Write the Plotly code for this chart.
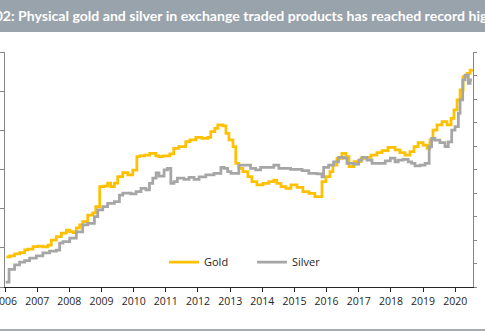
import plotly.graph_objects as go

# Gold ETP holdings (tonnes, left axis)
gold_dates = ["2006-01-16","2006-02-23","2006-04-19","2006-06-15","2006-08-11","2006-09-18","2006-11-14",
              "2007-01-10","2007-03-06","2007-05-02","2007-06-10","2007-08-06","2007-10-02","2007-11-28",
              "2008-01-05","2008-02-12","2008-03-20","2008-04-27","2008-06-01","2008-07-28","2008-09-23",
              "2008-10-27","2008-12-11","2009-01-27","2009-03-11","2009-04-15","2009-05-27","2009-07-03",
              "2009-08-30","2009-10-26","2009-12-22","2010-02-06","2010-03-10","2010-05-06","2010-07-02",
              "2010-09-09","2010-10-13","2010-11-28","2011-02-16","2011-04-01","2011-05-28","2011-08-16",
              "2011-10-01","2011-12-08","2012-02-15","2012-04-22","2012-05-26","2012-07-11","2012-08-14",
              "2012-10-10","2012-11-14","2012-12-18","2013-02-02","2013-03-06","2013-04-10","2013-05-25",
              "2013-07-21","2013-09-05","2013-11-01","2014-01-09","2014-03-16","2014-05-12","2014-06-15",
              "2014-08-01","2014-09-27","2014-11-22","2015-01-30","2015-04-07","2015-06-14","2015-08-21",
              "2015-10-06","2015-11-10","2015-12-25","2016-02-09","2016-03-13","2016-04-28","2016-06-24",
              "2016-08-09","2016-09-12","2016-11-08","2017-01-27","2017-03-23","2017-05-19","2017-07-26",
              "2017-09-22","2017-11-29","2018-02-17","2018-04-14","2018-06-10","2018-08-06","2018-09-21",
              "2018-11-06","2019-01-02","2019-02-17","2019-03-21","2019-04-24","2019-06-09","2019-08-05",
              "2019-10-01","2019-11-16","2019-12-19","2020-01-23","2020-02-26","2020-04-01","2020-05-16",
              "2020-06-19","2020-07-11"]
gold_values = [460,475,506,525,567,582,617,
               628,613,643,720,771,827,873,
               847,832,904,950,1000,1103,1134,
               1230,1537,1547,1593,1537,1593,1690,
               1751,1716,1792,1996,2007,2022,2048,
               2007,1996,2007,2038,2125,2149,2226,
               2252,2293,2278,2293,2379,2431,2482,
               2467,2355,2252,2149,1895,1818,1766,
               1690,1613,1563,1589,1613,1639,1589,
               1537,1512,1563,1527,1460,1436,1383,
               1383,1613,1690,1766,1869,1972,2048,
               1996,1843,1920,1972,1987,2022,2057,
               2088,2140,2099,2057,2022,2073,2149,
               2211,2175,2125,2252,2405,2482,2533,
               2482,2584,2712,2865,3018,3222,3274,
               3324,3335]

# Silver ETP holdings (Moz, right axis)
silver_dates = ["2006-01-08","2006-02-15","2006-04-19","2006-06-15","2006-08-11","2006-10-07","2006-12-22",
                "2007-03-06","2007-05-21","2007-08-06","2007-09-13","2007-10-20","2008-01-05","2008-03-20",
                "2008-06-01","2008-07-28","2008-10-12","2008-11-19","2009-01-15","2009-03-11","2009-05-27",
                "2009-07-23","2009-08-30","2009-12-02","2010-01-28","2010-03-25","2010-05-21","2010-06-29",
                "2010-08-06","2010-09-13","2010-10-16","2010-12-12","2011-01-20","2011-02-27","2011-04-04",
                "2011-05-12","2011-07-27","2011-09-22","2011-11-18","2012-01-14","2012-03-30","2012-07-02",
                "2012-09-18","2012-10-25","2012-12-03","2013-01-10","2013-04-10","2013-08-21","2013-10-17",
                "2013-12-13","2014-05-12","2014-07-08","2014-11-19","2015-03-30","2015-06-14","2015-09-14",
                "2015-11-10","2015-11-29","2016-01-25","2016-03-21","2016-05-17","2016-07-13","2016-08-20",
                "2016-11-05","2017-01-01","2017-02-08","2017-04-04","2017-06-01","2017-10-29","2017-12-26",
                "2018-02-17","2018-03-25","2018-05-21","2018-07-17","2018-08-25","2018-10-02","2018-11-28",
                "2019-01-24","2019-03-12","2019-04-09","2019-05-16","2019-07-12","2019-09-08","2019-10-15",
                "2019-11-23","2019-12-31","2020-02-07","2020-02-26","2020-03-27","2020-04-23","2020-05-30",
                "2020-06-19","2020-07-11"]
silver_values = [21,75,94,106,112,123,132,
                 145,153,157,187,193,208,235,
                 264,271,299,328,342,356,363,
                 391,399,396,406,420,413,441,
                 463,486,472,498,505,441,448,
                 463,458,467,458,469,477,484,
                 509,505,491,484,519,505,498,
                 509,519,505,501,495,484,481,
                 469,509,519,533,552,548,526,
                 523,540,552,540,526,537,548,
                 533,540,543,533,526,515,519,
                 526,597,633,625,614,597,618,
                 668,682,739,796,881,902,867,
                 881,881]

year_ticks = [f"{y}-01-01" for y in range(2006, 2021)]
year_labels = [str(y) for y in range(2006, 2021)]
left_ticks = [0, 600, 1200, 1800, 2400, 3000, 3600]
right_ticks = [0, 100, 200, 300, 400, 500, 600, 700, 800, 900, 1000]

title_text = "02: Physical gold and silver in exchange traded products has reached record high"

GOLD = "#FFC000"
SILVER = "#A6A6A6"

fig = go.Figure()
fig.add_trace(go.Scatter(x=gold_dates, y=gold_values, name="Gold", mode="lines",
                         line=dict(color=GOLD, width=2.75, shape="hv"), yaxis="y"))
fig.add_trace(go.Scatter(x=silver_dates, y=silver_values, name="Silver", mode="lines",
                         line=dict(color=SILVER, width=2.75, shape="hv"), yaxis="y2"))

W, H = 485, 332
L, R, T, B = 5, 12, 52, 45
pw, ph = W - L - R, H - T - B

def px_x(p):
    return (p - L) / pw

def px_y(p):
    return (H - B - p) / ph

fig.update_layout(
    width=W, height=H,
    margin=dict(l=L, r=R, t=T, b=B),
    template="none",
    paper_bgcolor="white", plot_bgcolor="white",
    font=dict(family="Open Sans", size=11, color="#404040"),
    title=dict(text=title_text, x=245 / W, xanchor="center", xref="container",
               y=1 - 16.5 / H, yanchor="middle", yref="container",
               font=dict(family="Lato", size=14.1, color="white", weight="bold")),
    xaxis=dict(type="date", range=["2005-12-31", "2020-07-22"], tickvals=year_ticks,
               ticktext=year_labels, showgrid=False, zeroline=False, showline=True,
               linecolor="#262626", linewidth=1, ticks="outside", ticklen=4,
               tickcolor="#262626", tickfont=dict(size=10.5, color="#262626"),
               ticklabeloverflow="allow", automargin=False),
    yaxis=dict(range=[0, 3600], tickvals=left_ticks, showgrid=False, zeroline=False,
               showline=True, linecolor="#868686", linewidth=1, ticks="outside", ticklen=4,
               tickcolor="#868686", showticklabels=False, automargin=False),
    yaxis2=dict(range=[0, 1000], tickvals=right_ticks, overlaying="y", side="right",
                showgrid=False, zeroline=False, showline=True, linecolor="#868686", linewidth=1,
                ticks="outside", ticklen=3, tickcolor="#868686", ticklabelstandoff=6,
                tickfont=dict(size=10, color="#8c8c8c"), automargin=False),
    showlegend=True,
    legend=dict(orientation="h", x=px_x(164), xanchor="left", y=px_y(262), yanchor="middle",
                bgcolor="rgba(0,0,0,0)", font=dict(size=11, color="#262626"),
                entrywidth=43, entrywidthmode="pixels", itemwidth=30, tracegroupgap=0),
    shapes=[
        dict(type="rect", xref="paper", yref="paper", x0=px_x(-2), x1=px_x(W + 2),
             y0=px_y(32), y1=px_y(-2), fillcolor="#99A3AC", line=dict(width=0), layer="below"),
        dict(type="line", xref="paper", yref="paper", x0=px_x(-2), x1=px_x(W + 2),
             y0=px_y(330), y1=px_y(330), line=dict(color="#A6AEB4", width=2)),
    ],
)

fig.write_html("out.html")
